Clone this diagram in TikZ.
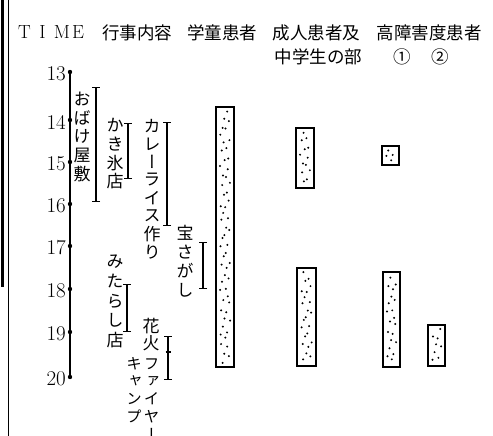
\documentclass[tikz,border=0pt]{standalone}
\usepackage{fontspec}
\usetikzlibrary{arrows.meta}
\newfontfamily\jp{Noto Sans CJK JP}
\newfontfamily\jpv[RawFeature=+vert]{Noto Sans CJK JP}
\tikzset{
  hd/.style={inner sep=0pt, font=\jp\fontsize{17.5}{20}\selectfont},
  lat/.style={inner sep=0pt, font=\fontsize{19}{22}\selectfont},
  num/.style={inner sep=0pt, anchor=east, font=\fontsize{21}{24}\selectfont},
  vt/.style={inner sep=0pt, font=\jpv\fontsize{17}{19}\selectfont},
  vts/.style={inner sep=0pt, font=\jpv\fontsize{15.5}{18}\selectfont},
  brk/.style={line width=1.4pt, {Bar[width=8pt,line width=1.4pt]}-{Bar[width=8pt,line width=1.4pt]}},
  axisline/.style={line width=1.8pt},
  bar/.style={line width=1.8pt, fill=white},
  frame/.style={line width=1.2pt}
}
\newcommand\vtxt[6][vt]{%
  \foreach \c [count=\k from 0] in {#6} {\node[#1] (#2-\k) at (#3,#4+\k*#5) {\c};}}
\def\xarr{{0.12,0.71,0.43,0.88,0.27,0.55,0.05,0.93,0.36,0.64,0.19,0.82,0.47,0.02,0.76,0.31,0.59,0.97,0.23,0.68,0.40,0.85,0.09,0.52,0.33,0.79,0.15,0.61,0.91,0.44,0.26,0.73,0.07,0.57,0.38,0.95,0.17,0.66,0.49,0.84,0.21,0.58,0.03,0.77,0.34,0.90,0.13,0.62,0.45,0.99,0.29,0.70,0.08,0.53}}
\def\yarr{{0.61,0.18,0.83,0.37,0.92,0.05,0.49,0.74,0.26,0.58,0.11,0.96,0.33,0.67,0.42,0.88,0.21,0.54,0.07,0.79,0.30,0.64,0.95,0.15,0.46,0.71,0.02,0.87,0.39,0.56,0.24,0.81,0.13,0.68,0.44,0.98,0.35,0.09,0.76,0.52,0.28,0.91,0.17,0.63,0.48,0.04,0.85,0.31,0.72,0.20,0.59,0.94,0.41,0.12}}
\newcommand\stip[6]{% name x1 y1 x2 y2 offset
  \draw[bar] (#2,#3) rectangle (#4,#5) coordinate (#1);
  \pgfmathtruncatemacro\nd{max(4,abs((#4-#2)*(#5-#3))/80)}
  \foreach \i in {1,...,\nd}{%
    \pgfmathtruncatemacro\kk{mod(\i+#6,54)}%
    \pgfmathsetmacro\fx{\xarr[\kk]}%
    \pgfmathsetmacro\fy{\yarr[\kk]}%
    \pgfmathsetmacro\px{#2+3.8+\fx*(#4-#2-7.6)}%
    \pgfmathsetmacro\py{#3+3.8+(\i-1+\fy)/\nd*(#5-#3-7.6)}%
    \fill (\px,\py) circle (1.1pt);}}
\begin{document}
\begin{tikzpicture}[x=1pt,y=-1pt]
\useasboundingbox (0,0) rectangle (493,436);
\clip (0,0) rectangle (493,436);
% left frame
\coordinate (fa1) at (2.5,0); \coordinate (fa2) at (2.5,287);
\coordinate (fb1) at (8.5,0); \coordinate (fb2) at (8.5,436);
\draw[line width=2.4pt] (fa1) -- (fa2);
\draw[frame] (fb1) -- (fb2);
% header
\node[lat] (tT) at (24.5,32) {T};
\node[lat] (tI) at (42.5,32) {I};
\node[lat] (tM) at (62,32) {M};
\node[lat] (tE) at (78,32) {E};
\node[hd] (h1) at (137,33) {行事内容};
\node[hd] (h2) at (222,33) {学童患者};
\node[hd] (h3) at (316.5,33) {成人患者及};
\node[hd] (h3b) at (318.5,57) {中学生の部};
\node[hd] (h4) at (429,33) {高障害度患者};
\node[hd] (c1) at (402,57) {①};
\node[hd] (c2) at (440,57) {②};
% time axis
\foreach \h/\y in {13/72,14/120,15/162,16/204,17/246,18/289,19/332,20/377}{
  \coordinate (t\h) at (70,\y);
  \fill (t\h) circle (2.2pt);
  \node[num] (n\h) at (66,\y+2) {\h};
}
\draw[axisline] (t13) -- (t20);
% events
\vtxt{ob}{82}{99}{18.8}{お,ば,け,屋,敷}
\coordinate (ob1) at (96,87); \coordinate (ob2) at (96,202);
\draw[brk] (ob1) -- (ob2);
\vtxt{kk}{115}{125}{18.8}{か,き,氷,店}
\coordinate (kk1) at (128,123); \coordinate (kk2) at (128,179);
\draw[brk] (kk1) -- (kk2);
\vtxt{cr}{152}{126}{18}{カ,レ,ー,ラ,イ,ス,作,り}
\coordinate (cr1) at (167,122); \coordinate (cr2) at (167,226);
\draw[brk] (cr1) -- (cr2);
\vtxt{ts}{185}{233}{19}{宝,さ,が,し}
\coordinate (ts1) at (203,242); \coordinate (ts2) at (203,289);
\draw[brk] (ts1) -- (ts2);
\vtxt{mt}{115}{262}{19.5}{み,た,ら,し,店}
\coordinate (mt1) at (127,284); \coordinate (mt2) at (127,332);
\draw[brk] (mt1) -- (mt2);
\vtxt{hb}{151}{326}{17.5}{花,火}
\vtxt[vts]{hf}{151.5}{364}{17.5}{フ,ァ,イ,ヤ,ー}
\vtxt[vts]{kc}{134}{364}{17.5}{キ,ャ,ン,プ}
\coordinate (hb1) at (168,336); \coordinate (hb2) at (168,380);
\draw[brk] (hb1) -- (hb2);
\coordinate (hbm) at (168,352);
\draw[line width=1.2pt] ([xshift=-2.5pt]hbm) -- ([xshift=2.5pt]hbm);
% bars
\stip{b1}{216}{107}{234}{367}{0}
\stip{b2}{296}{128}{314}{188}{7}
\stip{b3}{297}{268}{316}{366}{17}
\stip{b4}{382}{146}{399}{165}{29}
\stip{b5}{383}{272}{400}{367}{33}
\stip{b6}{428}{325}{445}{366}{44}
\end{tikzpicture}
\end{document}
